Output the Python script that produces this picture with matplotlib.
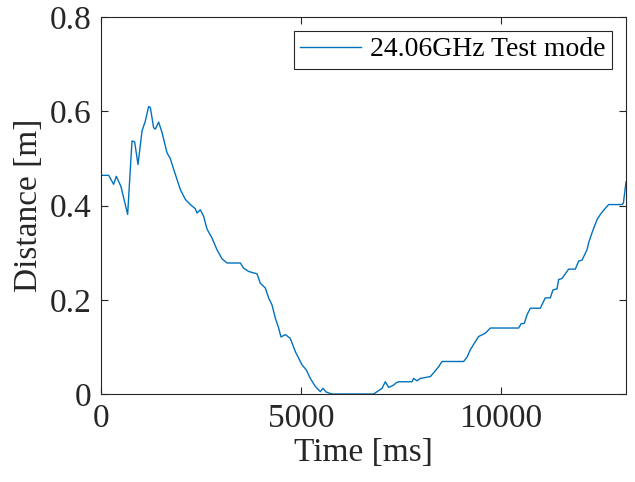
import matplotlib
matplotlib.use("Agg")
import matplotlib.pyplot as plt

plt.rcParams['font.family'] = ['Liberation Serif', 'DejaVu Serif']

time_ms = [0, 192, 316, 383, 500, 666, 775, 841, 925, 1025, 1108, 1191, 1233, 1316,
           1358, 1441, 1525, 1650, 1730, 1816, 1983, 2108, 2233, 2358, 2400, 2483,
           2566, 2650, 2775, 2900, 3025, 3150, 3483, 3566, 3691, 3900, 3983, 4108,
           4191, 4275, 4358, 4441, 4500, 4608, 4733, 4858, 5025, 5133, 5233, 5358,
           5483, 5550, 5633, 5775, 6816, 7025, 7108, 7191, 7316, 7383, 7441, 7775,
           7816, 7900, 7983, 8233, 8316, 8441, 8525, 9066, 9150, 9233, 9358, 9441,
           9608, 9733, 10441, 10500, 10583, 10650, 10733, 10983, 11050, 11108,
           11233, 11300, 11400, 11441, 11525, 11691, 11858, 11941, 12025, 12150,
           12191, 12275, 12400, 12483, 12566, 12691, 13025, 13060, 13125]
distance_m = [0.464, 0.464, 0.445, 0.462, 0.440, 0.381, 0.537, 0.535, 0.487, 0.558,
              0.579, 0.610, 0.608, 0.565, 0.562, 0.577, 0.555, 0.512, 0.500, 0.477,
              0.434, 0.413, 0.402, 0.393, 0.384, 0.391, 0.377, 0.350, 0.331, 0.306,
              0.287, 0.278, 0.278, 0.267, 0.260, 0.255, 0.235, 0.225, 0.204, 0.189,
              0.161, 0.140, 0.121, 0.126, 0.118, 0.090, 0.062, 0.051, 0.033, 0.016,
              0.005, 0.012, 0.004, 0.000, 0.000, 0.012, 0.026, 0.014, 0.019, 0.024,
              0.026, 0.026, 0.033, 0.028, 0.033, 0.037, 0.045, 0.058, 0.069, 0.069,
              0.078, 0.094, 0.111, 0.122, 0.129, 0.140, 0.140, 0.149, 0.150, 0.168,
              0.182, 0.182, 0.194, 0.204, 0.204, 0.221, 0.223, 0.243, 0.245, 0.265,
              0.265, 0.282, 0.284, 0.306, 0.321, 0.342, 0.370, 0.381, 0.390, 0.402,
              0.402, 0.405, 0.450]

x_ticks = [0, 5000, 10000]
y_ticks = [0, 0.2, 0.4, 0.6, 0.8]
y_tick_labels = ['0', '0.2', '0.4', '0.6', '0.8']

fig = plt.figure(figsize=(6.35, 4.82), dpi=100)
ax = fig.add_axes([101/635, 1 - 394/482, (626 - 101)/635, (394 - 17)/482])
ax.plot(time_ms, distance_m, color='#0072BD', linewidth=1.0, label='24.06GHz Test mode')
ax.set_xlim(0, 13125)
ax.set_ylim(0, 0.8)
ax.set_xticks(x_ticks)
ax.set_xticklabels([str(t) for t in x_ticks])
ax.set_yticks(y_ticks)
ax.set_yticklabels(y_tick_labels)
ax.tick_params(direction='in', top=True, right=True, labelsize=24, colors='#262626',
               length=5, width=0.8, pad=7)
for sp in ax.spines.values():
    sp.set_color('#262626')
    sp.set_linewidth(0.8)
ax.set_xlabel('Time [ms]', fontsize=24, color='#262626', labelpad=2)
ax.set_ylabel('Distance [m]', fontsize=24, color='#262626', labelpad=4)
leg = ax.legend(loc='upper right', fontsize=20, frameon=True, fancybox=False,
                edgecolor='#262626', framealpha=1, handlelength=2.2,
                borderpad=0.22, handletextpad=0.35, borderaxespad=0.5)
leg.get_frame().set_linewidth(0.8)
fig.savefig('out.png', dpi=100)
